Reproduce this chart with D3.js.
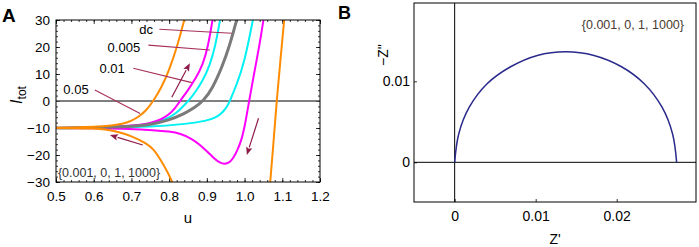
<!DOCTYPE html>
<html><head><meta charset="utf-8">
<script src="https://cdn.jsdelivr.net/npm/d3@7"></script>
<style>
html,body{margin:0;padding:0;background:#fff;}
svg{display:block;font-family:"Liberation Sans",Arial,sans-serif;}
</style></head>
<body><svg id="c" width="699" height="247"></svg>
<script>
// ---------- Panel A data (u, I_tot) ----------
const xTicksA = [0.5,0.6,0.7,0.8,0.9,1.0,1.1,1.2];
const yTicksA = [-30,-20,-10,0,10,20,30];
// 0.05 (orange)
const orangeUpU = [0.5,0.55,0.6,0.65,0.68,0.7,0.72,0.74,0.758,0.78,0.8,0.82,0.84];
const orangeUpI = [-9.9,-9.8,-9.6,-9.1,-8.4,-7.4,-5.8,-3.4,0,5,11.5,19.5,30];
const orangeLoU = [0.5,0.55,0.6,0.63,0.66,0.7,0.74,0.76,0.776,0.795,0.81];
const orangeLoI = [-10,-10.05,-10.2,-10.5,-11.2,-12.9,-15.7,-18,-21.5,-26,-30.5];
const orangeRU = [1.068,1.077,1.085,1.095,1.105];
const orangeRI = [-30,-15,0,15,30];
// 0.01 (magenta)
const magUpU = [0.5,0.6,0.7,0.75,0.78,0.8,0.815,0.829,0.85,0.87,0.889,0.903,0.915];
const magUpI = [-10,-9.85,-9.2,-8.3,-6.8,-5,-2.8,0,4,8.3,13.3,20,30];
const magLoU = [0.5,0.6,0.7,0.76,0.8,0.83,0.86,0.88,0.9,0.92,0.935,0.947,0.96,0.97,0.98,0.9925,1.003,1.012,1.025,1.04,1.05];
const magLoI = [-10,-10.05,-10.3,-10.8,-11.3,-12,-14,-16,-18.6,-21.4,-22.9,-23.4,-22.8,-21.2,-18.5,-14.4,-7.5,0,10,21,30];
// 0.005 (cyan)
const cyanUpU = [0.5,0.6,0.7,0.75,0.79,0.82,0.838,0.851,0.87,0.89,0.908,0.922,0.935];
const cyanUpI = [-10,-9.9,-9.4,-8.6,-7,-4.5,-1.8,0,3.3,7.8,13.3,20,30];
const cyanLoU = [0.5,0.65,0.75,0.838,0.9,0.926,0.94,0.953,0.961,0.979,1.0,1.022];
const cyanLoI = [-10,-9.9,-9.6,-8.6,-7.4,-6,-4.5,-2.3,0,6,14.5,30];
// dc (gray)
const dcU = [0.5,0.6,0.7,0.75,0.8,0.84,0.866,0.891,0.915,0.94,0.96,0.979];
const dcI = [-10,-9.9,-9.5,-8.8,-7.1,-4.7,-2.6,0,4.7,12.5,20.3,30];

// labels & annotations (data coords)
const seriesLabels = ["dc","0.005","0.01","0.05"];
const labelU = [0.739,0.680,0.649,0.553];
const labelI = [26.3,20,12.2,4.1];
const leaderFromU = [0.774,0.745,0.705,0.603];
const leaderFromI = [26.6,20.7,12.1,4.1];
const leaderToU = [0.966,0.908,0.860,0.723];
const leaderToI = [25.1,18.9,6.8,-4.6];
const arrowFromU = [0.807,0.730,1.037];
const arrowFromI = [1.4,-16.3,-6.4];
const arrowToU = [0.855,0.643,1.006];
const arrowToI = [14,-12.6,-20];
const paramText = "{0.001, 0, 1, 1000}";

// ---------- Panel B data (Z', Z'') ----------
const xTicksB = [0,0.01,0.02];
const yTicksB = [0,0.01];
const zRe = [0,0.0005,0.0018,0.0040,0.0069,0.0102,0.0137,0.0172,0.0206,0.0234,0.0256,0.0269,0.0274];
const zIm = [0,0.0035,0.0068,0.0097,0.0118,0.0132,0.01365,0.0132,0.0118,0.0097,0.0068,0.0035,0];

const svg = d3.select("#c");
const font = '"Liberation Sans",Arial,sans-serif';

// ================= Panel A =================
const A = {l:56, r:320, t:20, b:182};
const xA = d3.scaleLinear().domain([0.5,1.2]).range([A.l,A.r]);
const yA = d3.scaleLinear().domain([-30,30]).range([A.b,A.t]);

svg.append("defs").append("clipPath").attr("id","clipA")
  .append("rect").attr("x",A.l).attr("y",A.t).attr("width",A.r-A.l).attr("height",A.b-A.t);

const minorX = d3.range(0.5,1.2001,0.02).map(v=>+v.toFixed(3));
const minorY = d3.range(-30,30.001,2);

function axisStyle(g){ g.select(".domain").remove(); g.selectAll("line").attr("stroke","#000").attr("stroke-width",0.8); }

svg.append("g").attr("transform",`translate(0,${A.b})`).call(d3.axisBottom(xA).tickValues(minorX).tickSize(-2).tickFormat("")).call(axisStyle);
svg.append("g").attr("transform",`translate(0,${A.t})`).call(d3.axisTop(xA).tickValues(minorX).tickSize(-2).tickFormat("")).call(axisStyle);
svg.append("g").attr("transform",`translate(${A.l},0)`).call(d3.axisLeft(yA).tickValues(minorY).tickSize(-2).tickFormat("")).call(axisStyle);
svg.append("g").attr("transform",`translate(${A.r},0)`).call(d3.axisRight(yA).tickValues(minorY).tickSize(-2).tickFormat("")).call(axisStyle);
const gxA = svg.append("g").attr("transform",`translate(0,${A.b})`)
  .call(d3.axisBottom(xA).tickValues(xTicksA).tickSize(-4).tickPadding(9).tickFormat(d3.format(".1f"))).call(axisStyle);
svg.append("g").attr("transform",`translate(0,${A.t})`).call(d3.axisTop(xA).tickValues(xTicksA).tickSize(-4).tickFormat("")).call(axisStyle);
const gyA = svg.append("g").attr("transform",`translate(${A.l},0)`)
  .call(d3.axisLeft(yA).tickValues(yTicksA).tickSize(-4).tickPadding(6).tickFormat(d=>d<0?"\u2212"+Math.abs(d):d)).call(axisStyle);
svg.append("g").attr("transform",`translate(${A.r},0)`).call(d3.axisRight(yA).tickValues(yTicksA).tickSize(-4).tickFormat("")).call(axisStyle);
[gxA,gyA].forEach(g=>g.selectAll("text").attr("font-family",font).attr("font-size",13.5).attr("fill","#000"));

svg.append("line").attr("x1",A.l).attr("x2",A.r).attr("y1",yA(0)).attr("y2",yA(0))
  .attr("stroke","#555").attr("stroke-width",1.5);

const line = d3.line().x(d=>xA(d[0])).y(d=>yA(d[1])).curve(d3.curveBasis);
const zip = (u,i)=>u.map((v,k)=>[v,i[k]]);
const curves = [
  {u:cyanLoU,i:cyanLoI,c:"#00f2f2",w:2},
  {u:cyanUpU,i:cyanUpI,c:"#00f2f2",w:2},
  {u:magLoU,i:magLoI,c:"#ff00ff",w:2},
  {u:magUpU,i:magUpI,c:"#ff00ff",w:2},
  {u:dcU,i:dcI,c:"#7a7a7a",w:3},
  {u:orangeLoU,i:orangeLoI,c:"#ff8c00",w:2},
  {u:orangeUpU,i:orangeUpI,c:"#ff8c00",w:2},
  {u:orangeRU,i:orangeRI,c:"#ff8c00",w:2}
];
const gc = svg.append("g").attr("clip-path","url(#clipA)");
curves.forEach(s=>{
  gc.append("path").attr("d",line(zip(s.u,s.i))).attr("fill","none")
    .attr("stroke",s.c).attr("stroke-width",s.w).attr("stroke-linecap","butt");
});

svg.append("rect").attr("x",A.l).attr("y",A.t).attr("width",A.r-A.l).attr("height",A.b-A.t)
  .attr("fill","none").attr("stroke","#000").attr("stroke-width",1);

const mar = "#a6305c";
seriesLabels.forEach((t,k)=>{
  svg.append("line").attr("x1",xA(leaderFromU[k])).attr("y1",yA(leaderFromI[k]))
    .attr("x2",xA(leaderToU[k])).attr("y2",yA(leaderToI[k]))
    .attr("stroke",mar).attr("stroke-width",1.1);
  svg.append("text").attr("x",xA(labelU[k])).attr("y",yA(labelI[k])+4.5)
    .attr("text-anchor","middle").attr("font-family",font).attr("font-size",13).attr("fill","#000").text(t);
});
const arrowCol = "#8e1c4a";
arrowFromU.forEach((u0,k)=>{
  const x0=xA(u0), y0=yA(arrowFromI[k]), x1=xA(arrowToU[k]), y1=yA(arrowToI[k]);
  const ang=Math.atan2(y1-y0,x1-x0), L=8, W=3.2;
  const bx=x1-L*Math.cos(ang), by=y1-L*Math.sin(ang);
  svg.append("line").attr("x1",x0).attr("y1",y0).attr("x2",bx).attr("y2",by)
    .attr("stroke",arrowCol).attr("stroke-width",1.2);
  const px=-Math.sin(ang), py=Math.cos(ang);
  svg.append("path").attr("d",`M${x1},${y1}L${bx+W*px},${by+W*py}L${bx+1.5*Math.cos(ang)},${by+1.5*Math.sin(ang)}L${bx-W*px},${by-W*py}Z`)
    .attr("fill",arrowCol);
});
svg.append("text").attr("x",xA(0.505)).attr("y",yA(-26.3)+4.5).attr("font-family",font).attr("font-size",12.5)
  .attr("fill","#333").text(paramText);

svg.append("text").attr("x",xA(0.85)).attr("y",223).attr("text-anchor","middle")
  .attr("font-family",font).attr("font-size",15).attr("fill","#000").text("u");
const yl = svg.append("text").attr("transform","translate(22,95) rotate(-90)").attr("text-anchor","middle")
  .attr("font-family",font).attr("font-size",16).attr("fill","#000");
yl.append("tspan").attr("font-style","italic").text("I");
yl.append("tspan").attr("font-size",12).attr("dy",4).text("tot");
svg.append("text").attr("x",2).attr("y",22).attr("font-family",font).attr("font-weight","bold").attr("font-size",19).text("A");

// ================= Panel B =================
const B = {l:414, r:696, t:3, b:202};
const xB = d3.scaleLinear().domain([-0.00502,0.02979]).range([B.l,B.r]);
const yB = d3.scaleLinear().domain([-0.0049,0.01967]).range([B.b,B.t]);

svg.append("text").attr("x",338).attr("y",19).attr("font-family",font).attr("font-weight","bold").attr("font-size",18).text("B");

const gxB = svg.append("g").attr("transform",`translate(0,${B.b})`)
  .call(d3.axisBottom(xB).tickValues(xTicksB).tickSize(-3).tickPadding(9).tickFormat(d=>d===0?"0":d3.format(".2f")(d))).call(axisStyle);
const gyB = svg.append("g").attr("transform",`translate(${B.l},0)`)
  .call(d3.axisLeft(yB).tickValues(yTicksB).tickSize(-3).tickPadding(4).tickFormat(d=>d===0?"0":d3.format(".2f")(d))).call(axisStyle);
[gxB,gyB].forEach(g=>g.selectAll("text").attr("font-family",font).attr("font-size",14).attr("fill","#000"));

svg.append("line").attr("x1",xB(0)).attr("x2",xB(0)).attr("y1",B.t).attr("y2",B.b).attr("stroke","#000").attr("stroke-width",1);
svg.append("line").attr("x1",B.l).attr("x2",B.r).attr("y1",yB(0)).attr("y2",yB(0)).attr("stroke","#000").attr("stroke-width",1);

const lineB = d3.line().x(d=>xB(d[0])).y(d=>yB(d[1])).curve(d3.curveCatmullRom.alpha(0.5));
svg.append("path").attr("d",lineB(zip(zRe,zIm))).attr("fill","none").attr("stroke","#2a2a8c").attr("stroke-width",1.5);

svg.append("rect").attr("x",B.l).attr("y",B.t).attr("width",B.r-B.l).attr("height",B.b-B.t)
  .attr("fill","none").attr("stroke","#000").attr("stroke-width",1);

svg.append("text").attr("x",684).attr("y",29).attr("text-anchor","end").attr("font-family",font).attr("font-size",12.5)
  .attr("fill","#4a3a30").text(paramText);

svg.append("text").attr("x",xB(0.0124)).attr("y",244).attr("text-anchor","middle")
  .attr("font-family",font).attr("font-size",14).attr("fill","#000").text("Z'");
svg.append("text").attr("transform","translate(388,55) rotate(-90)").attr("text-anchor","middle")
  .attr("font-family",font).attr("font-size",14).attr("fill","#000").text("\u2212Z''");
</script></body></html>
